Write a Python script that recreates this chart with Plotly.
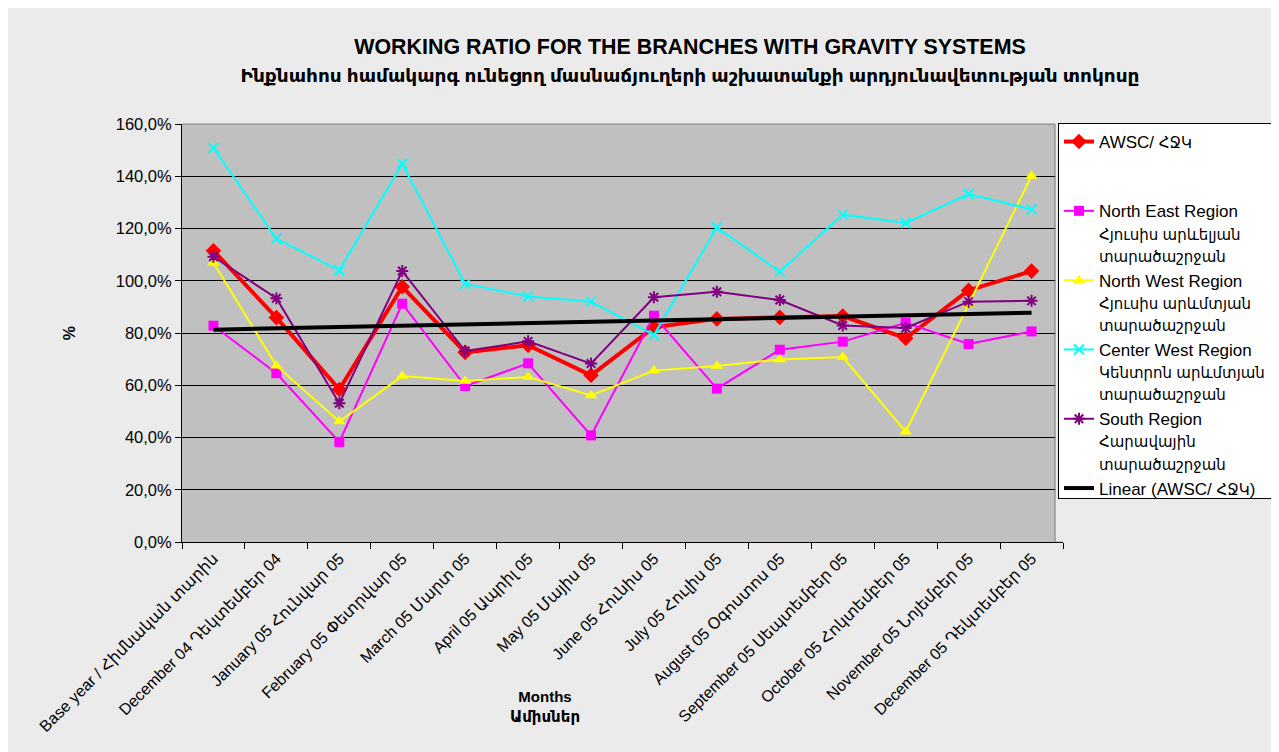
import numpy as np
import plotly.graph_objects as go

months = [
    "Base year / Հիմնական տարին",
    "December 04 Դեկտեմբեր 04",
    "January 05 Հունվար 05",
    "February 05 Փետրվար 05",
    "March 05 Մարտ 05",
    "April 05 Ապրիլ 05",
    "May 05 Մայիս 05",
    "June 05 Հունիս 05",
    "July 05 Հուլիս 05",
    "August 05 Օգոստոս 05",
    "September 05 Սեպտեմբեր 05",
    "October 05 Հոկտեմբեր 05",
    "November 05 Նոյեմբեր 05",
    "December 05 Դեկտեմբեր 05",
]

awsc = [111.5, 85.9, 58.4, 97.7, 72.6, 75.3, 63.8, 82.2, 85.4, 86.0, 86.5, 78.0, 96.3, 103.7]
north_east = [82.8, 64.6, 38.3, 91.2, 59.7, 68.4, 40.8, 86.6, 58.7, 73.6, 76.7, 83.9, 75.8, 80.6]
north_west = [106.9, 67.5, 46.1, 63.5, 61.6, 63.2, 56.1, 65.6, 67.4, 69.9, 70.8, 42.2, 91.0, 140.1]
center_west = [150.9, 116.1, 104.0, 144.8, 98.8, 94.0, 92.0, 79.2, 120.4, 103.5, 125.3, 122.1, 133.2, 127.3]
south = [109.2, 93.3, 53.1, 103.7, 73.1, 76.8, 68.3, 93.7, 95.8, 92.6, 82.9, 81.9, 92.0, 92.3]

ARM = "<span style='font-size:15px'>{}</span>"
names = [
    "AWSC/ " + ARM.format("ՀՋԿ") + "<br> <br> ",
    "North East Region<br>" + ARM.format("Հյուսիս արևելյան") + "<br>" + ARM.format("տարածաշրջան"),
    "North West Region<br>" + ARM.format("Հյուսիս արևմտյան") + "<br>" + ARM.format("տարածաշրջան"),
    "Center West Region<br>" + ARM.format("Կենտրոն արևմտյան") + "<br>" + ARM.format("տարածաշրջան"),
    "South Region<br>" + ARM.format("Հարավային") + "<br>" + ARM.format("տարածաշրջան"),
    "Linear (AWSC/ " + ARM.format("ՀՋԿ") + ")",
]

# linear trendline of AWSC (least squares, as in Excel)
idx = np.arange(1, len(awsc) + 1)
slope, intercept = np.polyfit(idx, awsc, 1)
trend = list(slope * idx + intercept)

fig = go.Figure()
fig.add_trace(go.Scatter(x=months, y=awsc, name=names[0], mode="lines+markers",
                         line=dict(color="#ff0000", width=4),
                         marker=dict(symbol="diamond", size=12, color="#ff0000"),
                         legendgroup="a"))
fig.add_trace(go.Scatter(x=months, y=north_east, name=names[1], mode="lines+markers",
                         line=dict(color="#ff00ff", width=2),
                         marker=dict(symbol="square", size=10, color="#ff00ff"),
                         legendgroup="b"))
fig.add_trace(go.Scatter(x=months, y=north_west, name=names[2], mode="lines+markers",
                         line=dict(color="#ffff00", width=2),
                         marker=dict(symbol="triangle-up", size=11, color="#ffff00"),
                         legendgroup="c"))
fig.add_trace(go.Scatter(x=months, y=center_west, name=names[3], mode="lines+markers",
                         line=dict(color="#00ffff", width=2),
                         marker=dict(symbol="x-thin-open", size=10, color="#00ffff",
                                     line=dict(color="#00ffff", width=2)),
                         legendgroup="d"))
fig.add_trace(go.Scatter(x=months, y=south, name=names[4], mode="lines+markers",
                         line=dict(color="#800080", width=2),
                         marker=dict(symbol="asterisk-open", size=10, color="#800080",
                                     line=dict(color="#800080", width=2)),
                         legendgroup="e"))
fig.add_trace(go.Scatter(x=months, y=trend, name=names[5], mode="lines",
                         line=dict(color="#000000", width=4),
                         legendgroup="f"))

W, H = 1279, 752
OFF = 8  # page body margin
L, R, T, B = 174, 224, 116, 218
pw = W - L - R
ph = H - T - B

def px_x(page_x):
    return (page_x - OFF - L) / pw

def px_y(page_y):
    return (H - B - (page_y - OFF)) / ph

FONT = "Liberation Sans, Arial, DejaVu Sans, sans-serif"

fig.update_layout(
    width=W, height=H,
    margin=dict(l=L, r=R, t=T, b=B, pad=0),
    paper_bgcolor="#ebebeb",
    plot_bgcolor="#c0c0c0",
    separators=",.",
    font=dict(family=FONT, size=15, color="black"),
    title=dict(
        text="<b>WORKING RATIO FOR THE BRANCHES WITH GRAVITY SYSTEMS</b><br>"
             "<span style='font-size:18.5px'><b>Ինքնահոս համակարգ ունեցող մասնաճյուղերի աշխատանքի արդյունավետության տոկոսը</b></span>",
        x=(690 - OFF) / W, xanchor="center", y=1 - 46 / H, yanchor="top",
        font=dict(size=21.4, family=FONT),
    ),
    showlegend=True,
    legend=dict(
        x=px_x(1058), xanchor="left", y=px_y(123), yanchor="top",
        bgcolor="white", bordercolor="black", borderwidth=1,
        font=dict(size=17), valign="top", tracegroupgap=11,
        traceorder="normal",
    ),
    xaxis=dict(
        type="category", tickson="boundaries", ticks="outside", ticklen=6,
        tickcolor="black", showline=True, linecolor="black", linewidth=1,
        showgrid=False, tickangle=-45, tickfont=dict(size=16),
        range=[-0.5, len(months) - 0.5], fixedrange=True, automargin=False,
    ),
    yaxis=dict(
        range=[0, 160], dtick=20, tickformat=".1f", ticksuffix="%",
        showgrid=True, gridcolor="black", gridwidth=1,
        showline=True, linecolor="black", linewidth=1,
        ticks="outside", ticklen=6, tickcolor="black",
        tickfont=dict(size=16.5), zeroline=False, automargin=False,
        title=dict(text="<b>%</b>", font=dict(size=16), standoff=36),
    ),
    annotations=[
        dict(text="<b>Months</b><br><b>Ամիսներ</b>", x=px_x(545), y=px_y(686),
             xref="paper", yref="paper", xanchor="center", yanchor="top",
             showarrow=False, font=dict(size=15)),
    ],
    shapes=[
        dict(type="rect", xref="paper", yref="paper", x0=px_x(1055.5), x1=1.0, y0=0.002, y1=1.0,
             fillcolor="#ebebeb", line=dict(width=0), layer="above"),
        dict(type="line", xref="paper", yref="paper", x0=px_x(1055), x1=px_x(1055), y0=0, y1=1,
             line=dict(color="#808080", width=1), layer="above"),
        dict(type="line", xref="paper", yref="paper", x0=0, x1=px_x(1055), y0=1, y1=1,
             line=dict(color="#808080", width=1), layer="above"),
    ],
)

fig.write_html("out.html")
